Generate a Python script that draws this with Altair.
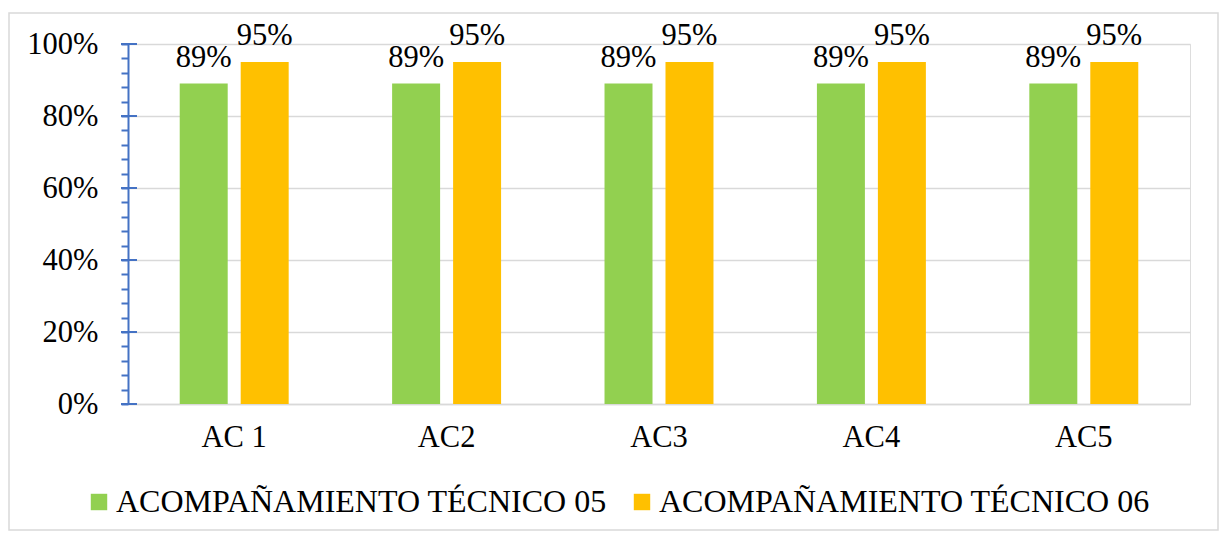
import altair as alt
import pandas as pd

categories = ["AC 1", "AC2", "AC3", "AC4", "AC5"]
series_names = ["ACOMPAÑAMIENTO TÉCNICO 05", "ACOMPAÑAMIENTO TÉCNICO 06"]
values_05 = [89, 89, 89, 89, 89]
values_06 = [95, 95, 95, 95, 95]
colors = ["#92D050", "#FFC000"]
major_ticks = [0, 20, 40, 60, 80, 100]
all_ticks = list(range(0, 101, 4))

rows = []
for c, a, b in zip(categories, values_05, values_06):
    rows.append({"cat": c, "serie": series_names[0], "value": a, "lbl": f"{a}%"})
    rows.append({"cat": c, "serie": series_names[1], "value": b, "lbl": f"{b}%"})
df = pd.DataFrame(rows)

FONT = "Liberation Serif"
BLUE = "#4472C4"
GRID = "#D9D9D9"

x_axis = alt.Axis(labelFont=FONT, labelFontSize=30.5, labelColor="black",
                  labelAngle=0, ticks=False, domainColor=GRID, domainWidth=1.5,
                  labelPadding=18)
y_axis = alt.Axis(values=all_ticks,
                  labelExpr="datum.value % 20 == 0 ? datum.value + '%' : ''",
                  labelOverlap=False,
                  labelFont=FONT, labelFontSize=30.5, labelColor="black",
                  labelPadding=23, tickSize=7, tickColor=BLUE, tickWidth=2,
                  domainColor=BLUE, domainWidth=2,
                  gridColor=GRID, gridWidth=1.5,
                  gridOpacity={"condition": {"test": "datum.value % 20 == 0", "value": 1}, "value": 0})
x_scale = alt.Scale(paddingInner=0.487, paddingOuter=0.2435)
xoff_scale = alt.Scale(paddingInner=0.213, paddingOuter=0)
y_scale = alt.Scale(domain=[0, 100], nice=False)

bars = alt.Chart(df).mark_bar().encode(
    x=alt.X("cat:N", sort=categories, title=None, scale=x_scale, axis=x_axis),
    xOffset=alt.XOffset("serie:N", sort=series_names, scale=xoff_scale),
    y=alt.Y("value:Q", scale=y_scale, title=None, axis=y_axis),
    color=alt.Color("serie:N", sort=series_names,
                    scale=alt.Scale(domain=series_names, range=colors),
                    legend=alt.Legend(title=None, orient="none", direction="horizontal",
                                      legendX=-45, legendY=442, padding=0,
                                      symbolType="square", symbolSize=270,
                                      symbolStrokeWidth=0,
                                      labelFont=FONT, labelFontSize=32, labelColor="black",
                                      labelOffset=1, columnPadding=19,
                                      labelLimit=1000)),
)

labels = alt.Chart(df).mark_text(font=FONT, fontSize=30.5, color="black",
                                 baseline="alphabetic", dy=-17).encode(
    x=alt.X("cat:N", sort=categories, title=None, scale=x_scale, axis=x_axis),
    xOffset=alt.XOffset("serie:N", sort=series_names, scale=xoff_scale),
    y=alt.Y("value:Q", scale=y_scale, title=None, axis=y_axis),
    text="lbl:N",
)

major = alt.Chart(pd.DataFrame({"value": major_ticks})).mark_rule(
    color=BLUE, strokeWidth=2).encode(
    y=alt.Y("value:Q", scale=y_scale, title=None, axis=y_axis),
    x=alt.value(-7), x2=alt.value(9),
)

border = alt.Chart(pd.DataFrame({"a": [0]})).mark_rect(
    fill=None, stroke=GRID, strokeWidth=1.5, clip=False).encode(
    x=alt.value(-119), x2=alt.value(1090),
    y=alt.value(-31), y2=alt.value(486),
)

chart = alt.layer(border, bars, labels, major).properties(
    width=1062, height=360,
    padding={"left": 128, "top": 44, "right": 35, "bottom": 132},
    autosize=alt.AutoSizeParams(type="none"),
).configure_view(stroke=None).configure(
    background="white", font=FONT
).configure_text(font=FONT)

chart.save("out.html", embed_options={"renderer": "svg", "actions": False})
